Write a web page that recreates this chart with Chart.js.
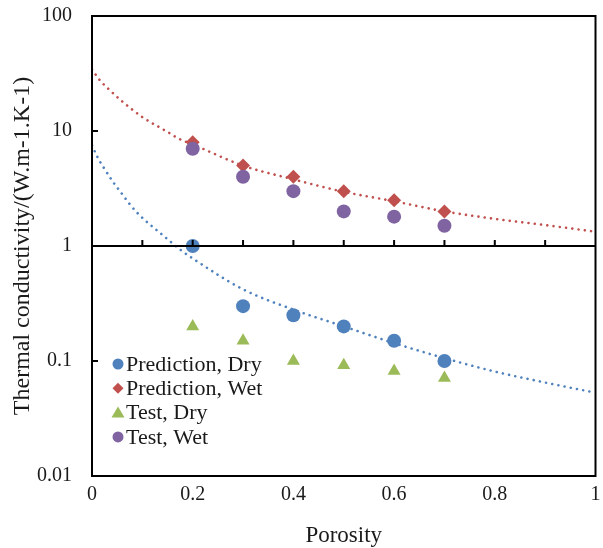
<!DOCTYPE html>
<html>
<head>
<meta charset="utf-8">
<script src="https://cdn.jsdelivr.net/npm/chart.js@4/dist/chart.umd.min.js"></script>
<style>
  html, body { margin: 0; padding: 0; background: #fff; }
  #wrap { width: 603px; height: 548px; }
</style>
</head>
<body>
<div id="wrap"><canvas id="thermal-chart" width="603" height="548"></canvas></div>
<script>
const porosity = [0.2, 0.3, 0.4, 0.5, 0.6, 0.7];
const predictionDry = [1.0, 0.3, 0.25, 0.2, 0.15, 0.1];
const predictionWet = [8, 5, 4, 3, 2.5, 2];
const testDry = [0.2, 0.15, 0.1, 0.092, 0.082, 0.071];
const testWet = [7, 4, 3, 2, 1.8, 1.5];

// dotted trend curves
const wetTrendX = [0, 0.016, 0.036, 0.056, 0.078, 0.1, 0.124, 0.148, 0.172, 0.2, 0.3, 0.4, 0.5, 0.6, 0.7, 0.8, 0.9, 1.0];
const wetTrendY = [34.3, 27.5, 22.5, 18.7, 15.6, 13.2, 11.4, 9.94, 8.59, 7.65, 5.0, 3.8, 2.96, 2.45, 2.0, 1.72, 1.52, 1.33];
const dryTrendX = [0, 0.012, 0.026, 0.042, 0.058, 0.075, 0.093, 0.114, 0.136, 0.156, 0.178, 0.2, 0.3, 0.4, 0.5, 0.6, 0.7, 0.8, 0.9, 1.0];
const dryTrendY = [7.5, 5.8, 4.6, 3.6, 2.9, 2.31, 1.88, 1.55, 1.29, 1.09, 0.91, 0.78, 0.42, 0.28, 0.2, 0.143, 0.106, 0.081, 0.065, 0.053];

const yTicks = [0.01, 0.1, 1, 10, 100];
const xMinorTicks = [0.1, 0.2, 0.3, 0.4, 0.5, 0.6, 0.7, 0.8, 0.9];

const BLUE = '#4F81BD', RED = '#C0504D', GREEN = '#9BBB59', PURPLE = '#8064A2';
const FONT = '"Liberation Serif", "Times New Roman", serif';
const TEXT = '#1a1a1a';

const pts = (xs, ys) => xs.map((x, i) => ({ x: x, y: ys[i] }));

function markerSet(label, ys, color, style, radius, order) {
  return {
    label: label,
    data: pts(porosity, ys),
    showLine: false,
    pointStyle: style,
    pointRadius: radius,
    pointHoverRadius: radius,
    pointBackgroundColor: color,
    pointBorderColor: color,
    pointBorderWidth: 0,
    order: order,
    inLegend: true
  };
}

function trendSet(xs, ys, color) {
  return {
    data: pts(xs, ys),
    showLine: true,
    borderColor: color,
    borderWidth: 2.6,
    borderDash: [0.01, 6.3],
    borderCapStyle: 'round',
    cubicInterpolationMode: 'monotone',
    pointRadius: 0,
    fill: false,
    order: 10
  };
}

// frame, inward ticks, the line at y = 1 and the legend inside the plot
const framePlugin = {
  id: 'frame',
  afterDatasetsDraw(chart) {
    const { ctx, chartArea: a, scales } = chart;
    const xs = scales.x, ys = scales.y;
    ctx.save();
    ctx.strokeStyle = '#000';
    ctx.lineWidth = 2;
    ctx.strokeRect(a.left, a.top, a.right - a.left, a.bottom - a.top);
    const y1 = ys.getPixelForValue(1);
    ctx.beginPath();
    ctx.moveTo(a.left, y1);
    ctx.lineTo(a.right, y1);
    xMinorTicks.forEach(v => {
      const px = xs.getPixelForValue(v);
      ctx.moveTo(px, y1);
      ctx.lineTo(px, y1 - 6);
    });
    yTicks.forEach(v => {
      const py = ys.getPixelForValue(v);
      ctx.moveTo(a.left, py);
      ctx.lineTo(a.left + 6, py);
    });
    ctx.stroke();
    ctx.restore();
  },
  afterDraw(chart) {
    const { ctx } = chart;
    const items = chart.data.datasets.filter(d => d.inLegend);
    ctx.save();
    ctx.font = '22px ' + FONT;
    ctx.textBaseline = 'middle';
    ctx.textAlign = 'left';
    items.forEach((d, i) => {
      const cx = 118, cy = 364 + i * 24.3;
      ctx.fillStyle = d.pointBackgroundColor;
      ctx.beginPath();
      if (d.pointStyle === 'circle') {
        ctx.arc(cx, cy, 5.5, 0, Math.PI * 2);
      } else if (d.pointStyle === 'rectRot') {
        ctx.moveTo(cx, cy - 5.5); ctx.lineTo(cx + 5.5, cy);
        ctx.lineTo(cx, cy + 5.5); ctx.lineTo(cx - 5.5, cy);
      } else {
        ctx.moveTo(cx, cy - 6); ctx.lineTo(cx + 6.5, cy + 5);
        ctx.lineTo(cx - 6.5, cy + 5);
      }
      ctx.closePath();
      ctx.fill();
      ctx.fillStyle = TEXT;
      ctx.fillText(d.label, cx + 8, cy + 1);
    });
    ctx.restore();
  }
};

const chart = new Chart(document.getElementById('thermal-chart'), {
  type: 'scatter',
  data: {
    datasets: [
      markerSet('Prediction, Dry', predictionDry, BLUE, 'circle', 7, 4),
      markerSet('Prediction, Wet', predictionWet, RED, 'rectRot', 7, 3),
      markerSet('Test, Dry', testDry, GREEN, 'triangle', 7.5, 2),
      markerSet('Test, Wet', testWet, PURPLE, 'circle', 7, 1),
      trendSet(dryTrendX, dryTrendY, BLUE),
      trendSet(wetTrendX, wetTrendY, RED)
    ]
  },
  options: {
    responsive: false,
    animation: false,
    layout: { padding: { top: 16, right: 3, left: 0, bottom: 0 } },
    plugins: {
      legend: { display: false },
      tooltip: { enabled: false }
    },
    scales: {
      x: {
        type: 'linear',
        min: 0,
        max: 1,
        grid: { display: false },
        border: { display: false },
        ticks: {
          stepSize: 0.2,
          padding: -1,
          color: TEXT,
          font: { family: FONT, size: 20 },
          maxRotation: 0,
          callback: v => String(Math.round(v * 10) / 10)
        },
        title: {
          display: true,
          text: 'Porosity',
          color: TEXT,
          font: { family: FONT, size: 23 },
          padding: { top: 0, bottom: -2 }
        },
        afterFit(scale) {
          scale.height = 72;
          scale.paddingLeft = 0;
          scale.paddingRight = 0;
        }
      },
      y: {
        type: 'logarithmic',
        min: 0.01,
        max: 100,
        grid: { display: false },
        border: { display: false },
        afterBuildTicks(scale) {
          scale.ticks = yTicks.map(v => ({ value: v }));
        },
        ticks: {
          padding: 12,
          color: TEXT,
          font: { family: FONT, size: 20 },
          callback: v => String(v)
        },
        title: {
          display: true,
          text: 'Thermal conductivity/(W.m-1.K-1)',
          color: TEXT,
          font: { family: FONT, size: 24 },
          padding: { top: 8, bottom: 0 }
        },
        afterFit(scale) {
          scale.width = 92;
          scale.paddingTop = 0;
          scale.paddingBottom = 0;
        }
      }
    }
  },
  plugins: [framePlugin]
});
</script>
</body>
</html>
